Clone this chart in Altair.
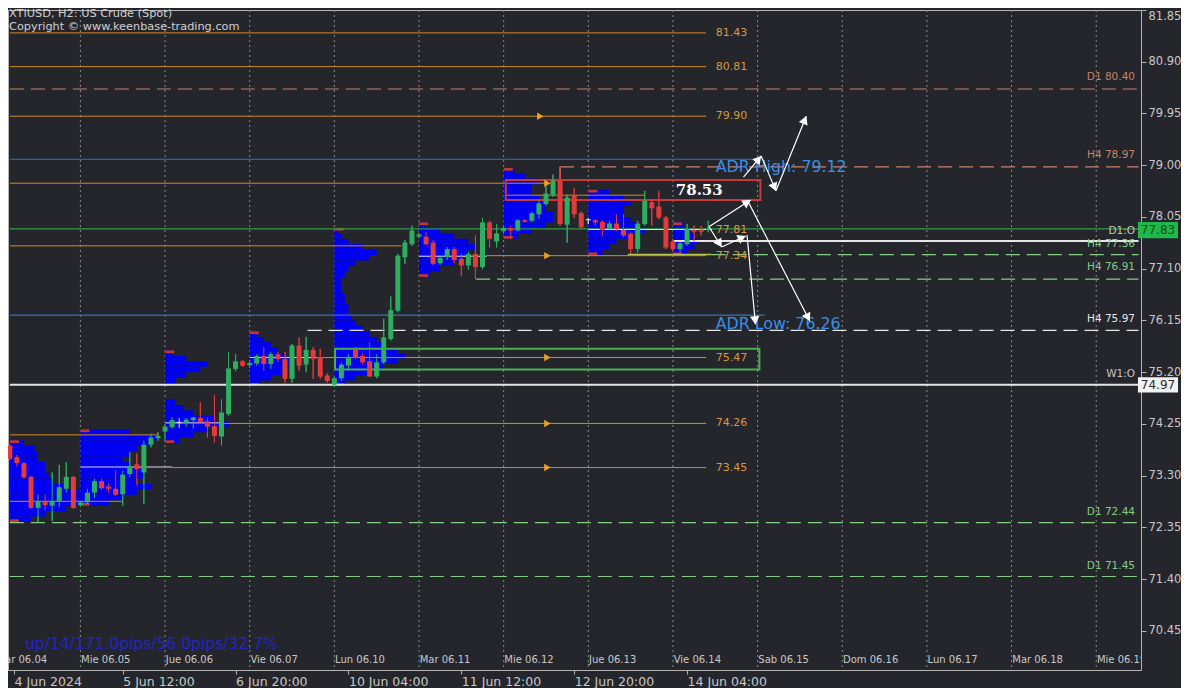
import math
import altair as alt
import pandas as pd

# ---------------- data: 2-hour candles (slot = bar index counted from 4 Jun 00:00) ----------------
first_slot = 2
opens = [
    73.85, 73.64, 73.53, 73.28, 72.71, 72.82, 72.75, 72.83, 73.06, 73.28,
    72.76, 72.81, 72.99, 73.20, 73.10, 73.06, 72.96, 73.33, 73.51, 73.36,
    73.87, 73.99, 74.11, 74.19, 74.28, 74.28, 74.32, 74.36, 74.30, 74.21,
    74.02, 74.43, 75.26, 75.40, 75.33, 75.36, 75.50, 75.35, 75.53, 75.44,
    75.08, 75.69, 75.34, 75.61, 75.48, 75.14, 74.97, 75.09, 75.32, 75.61,
    75.50, 75.40, 75.12, 75.38, 75.81, 76.33, 77.31, 77.55, 77.70, 77.69,
    77.58, 77.20, 77.31, 77.46, 77.28, 77.16, 77.37, 77.13, 77.95, 77.60,
    77.79, 77.85, 77.80, 77.99, 77.98, 78.10, 78.29, 78.46, 78.72, 77.91,
    78.44, 78.12, 78.00, 77.99, 77.96, 77.83, 77.93, 77.81, 77.74, 77.46,
    77.92, 78.32, 78.24, 78.04, 77.60, 77.46, 77.55, 77.81, 77.81, 77.82,
]
highs = [
    73.88, 73.69, 73.55, 73.30, 72.95, 72.95, 73.36, 73.50, 73.55, 73.29,
    72.84, 73.06, 73.24, 73.24, 73.16, 73.40, 73.39, 73.73, 73.71, 73.94,
    74.07, 74.10, 74.25, 74.38, 74.36, 74.36, 74.38, 74.65, 74.37, 74.78,
    74.70, 75.57, 75.53, 75.42, 75.42, 75.53, 75.66, 75.57, 75.57, 75.57,
    75.72, 75.84, 75.85, 75.66, 75.63, 75.18, 75.12, 75.38, 75.53, 75.67,
    75.55, 75.75, 75.53, 76.18, 76.59, 77.37, 77.63, 77.89, 77.76, 77.77,
    77.63, 77.32, 77.50, 77.50, 77.38, 77.41, 77.71, 78.03, 77.98, 77.92,
    77.89, 77.89, 78.01, 78.01, 78.15, 78.35, 78.69, 78.83, 78.97, 78.46,
    78.58, 78.15, 78.03, 78.01, 77.99, 77.98, 78.10, 78.10, 77.77, 77.98,
    78.53, 78.35, 78.53, 78.07, 77.65, 77.60, 77.92, 77.89, 77.89, 77.98,
]
lows = [
    73.59, 73.47, 73.24, 72.69, 72.44, 72.67, 72.47, 72.72, 72.99, 72.69,
    72.73, 72.78, 72.89, 73.04, 72.99, 72.93, 72.75, 73.27, 73.12, 72.78,
    73.82, 73.94, 73.94, 74.16, 74.18, 74.20, 74.16, 74.25, 74.00, 73.91,
    73.86, 74.40, 75.22, 75.30, 75.28, 75.32, 75.23, 75.26, 75.38, 75.01,
    75.01, 75.23, 75.20, 75.08, 75.08, 75.01, 74.93, 75.04, 75.26, 75.44,
    75.34, 75.11, 75.09, 75.35, 75.78, 76.30, 77.19, 77.52, 77.66, 77.52,
    77.16, 77.17, 77.26, 77.20, 76.97, 77.09, 76.91, 77.09, 77.49, 77.49,
    77.74, 77.65, 77.79, 77.95, 77.95, 78.01, 78.26, 78.42, 77.89, 77.58,
    78.03, 77.85, 77.92, 77.89, 77.71, 77.80, 77.79, 77.68, 77.37, 77.40,
    77.89, 77.89, 78.01, 77.46, 77.42, 77.40, 77.52, 77.60, 77.71, 77.77,
]
closes = [
    73.61, 73.53, 73.27, 72.71, 72.83, 72.76, 72.83, 73.09, 73.28, 72.71,
    72.81, 72.99, 73.20, 73.07, 73.06, 72.95, 73.32, 73.48, 73.42, 73.87,
    74.00, 74.03, 74.20, 74.32, 74.28, 74.33, 74.37, 74.28, 74.20, 74.03,
    74.46, 75.27, 75.40, 75.32, 75.37, 75.50, 75.35, 75.53, 75.44, 75.08,
    75.69, 75.32, 75.61, 75.44, 75.12, 75.04, 75.09, 75.34, 75.47, 75.46,
    75.38, 75.12, 75.38, 75.84, 76.34, 77.34, 77.58, 77.80, 77.72, 77.55,
    77.19, 77.30, 77.46, 77.26, 77.16, 77.37, 77.13, 77.95, 77.65, 77.75,
    77.85, 77.80, 77.99, 77.96, 78.12, 78.30, 78.48, 78.72, 77.92, 78.41,
    78.10, 77.86, 78.00, 77.95, 77.81, 77.93, 77.83, 77.71, 77.46, 77.93,
    78.35, 78.21, 78.04, 77.49, 77.46, 77.57, 77.83, 77.78, 77.79, 77.83,
]

# ---------------- day separators / time axis ----------------
day_slots = [0, 12, 24, 36, 48, 60, 72, 84, 96, 108, 120, 132, 144, 156]
day_names = ["Mar 06.04", "Mie 06.05", "Jue 06.06", "Vie 06.07", "Lun 06.10", "Mar 06.11",
             "Mie 06.12", "Jue 06.13", "Vie 06.14", "Sab 06.15", "Dom 06.16", "Lun 06.17",
             "Mar 06.18", "Mie 06.19"]
time_tick_slots = [2.6, 18, 34, 50, 66, 82, 98]
time_tick_labels = ["4 Jun 2024", "5 Jun 12:00", "6 Jun 20:00", "10 Jun 04:00",
                    "11 Jun 12:00", "12 Jun 20:00", "14 Jun 04:00"]
price_ticks = [81.85, 80.90, 79.95, 79.00, 78.05, 77.10, 76.15, 75.20, 74.25,
               73.30, 72.35, 71.40, 70.45]

# ---------------- daily volume profiles (start slot, top price, widths in bars per 0.10 level) ----------------
profile_starts = [2.0, 12, 24, 36, 48, 60, 72, 84, 96]
profile_tops = [73.95, 74.15, 75.60, 75.95, 77.85, 77.95, 78.95, 78.55, 77.95]
profile_widths = [
    [2, 3.5, 4, 4, 5, 5, 5.5, 6, 8, 10, 12, 14, 8, 5, 3],
    [7, 11, 10, 8, 7, 6, 7, 9, 9, 8, 10, 8, 6, 4],
    [1, 3, 6, 5, 3, 1.5, 0, 0, 0, 1.5, 2.5, 4, 7, 9, 6, 4, 2],
    [1, 2, 3, 4, 5, 6, 5.5, 4.5, 3, 1.5],
    [0.5, 1, 2, 4, 6, 5, 3, 2, 1.5, 1, 1, 1, 1.5, 1.5, 2, 2, 2.5, 3, 4, 5, 6, 7, 9, 10, 9, 7, 5, 3, 1.5],
    [1, 3, 5, 7, 8, 7, 6, 5, 3, 1.5],
    [1.5, 3, 5, 4, 4, 5, 6, 6, 7, 7, 6, 4, 2],
    [3, 5, 6, 5, 5, 6, 7, 8, 6, 4, 3, 2],
    [1.5, 2.5, 3, 3.5, 3, 2],
]

# ---------------- level lines ----------------
ORANGE = "#d08c26"
ORANGE_TXT = "#d49a3c"
BLUE_LINE = "#3c6fb4"
ADR_TXT = "#3a8ee6"
GREEN_LINE = "#2f9e44"
LGREEN = "#86cc86"
SALMON = "#c9826a"
WHITE = "#e6e6e6"
PINKWHITE = "#e9cfe6"
GRAY_TXT = "#c4c4c4"
GREEN = "#2fae5f"
RED = "#e33b3b"
PROFILE = "#0000f2"
BG = "#24262c"

solid_price = [81.43, 80.81, 79.90, 78.67, 78.45, 77.52, 77.34, 75.47, 74.26, 74.05, 73.45, 72.83,
               79.11, 76.25, 77.83, 74.97, 77.61,
               73.46, 74.27, 75.47, 77.33, 77.82, 77.36]
solid_from = [2.0, 2.0, 2.0, 2.0, 72.3, 2.0, 69.6, 45.5, 32.2, 2.0, 25.0, 2.0,
              2.0, 2.0, 2.0, 2.0, 96.1,
              12.0, 24.0, 36.0, 60.0, 84.0, 89.6]
solid_to = [100.7, 100.7, 100.7, 78.6, 92.0, 57.5, 100.7, 100.7, 100.7, 23.1, 100.7, 17.9,
            108.3, 109.0, 162.0, 162.0, 162.0,
            25.0, 32.2, 45.5, 69.6, 101.5, 101.5]
solid_color = [ORANGE] * 12 + [BLUE_LINE, BLUE_LINE, GREEN_LINE, WHITE, WHITE,
                               PINKWHITE, WHITE, PINKWHITE, WHITE, "#cfe8cf", "#b9c44a"]
solid_width = [1] * 12 + [1.2, 1.2, 1.2, 2, 2, 1, 1, 1, 1, 1, 1.5]

dash_price = [80.40, 78.97, 77.36, 76.91, 75.97, 72.44, 71.45]
dash_from = [2.0, 80.0, 101.5, 68.1, 44.2, 2.0, 2.0]
dash_color = [SALMON, SALMON, LGREEN, LGREEN, WHITE, LGREEN, LGREEN]

level_label_text = ["81.43", "80.81", "79.90", "77.81", "77.34", "75.47", "74.26", "73.45"]
level_label_price = [81.43, 80.81, 79.90, 77.81, 77.34, 75.47, 74.26, 73.45]
marker_price = [79.90, 78.67, 77.34, 75.47, 74.26, 73.45]
marker_slot = [77.2, 78.2, 78.2, 78.2, 78.2, 78.2]

right_label_text = ["D1 80.40", "H4 78.97", "D1:O", "H4 77.36", "H4 76.91", "H4 75.97", "W1:O", "D1 72.44", "D1 71.45"]
right_label_price = [80.62, 79.19, 77.79, 77.55, 77.13, 76.18, 75.17, 72.63, 71.64]
right_label_color = [SALMON, SALMON, GRAY_TXT, LGREEN, LGREEN, WHITE, GRAY_TXT, LGREEN, LGREEN]

# zones
zone_x1 = [72.3, 48.1]
zone_x2 = [108.4, 108.25]
zone_p1 = [78.36, 75.25]
zone_p2 = [78.73, 75.63]
zone_color = ["#c8393b", "#4caf50"]

# scenario arrows
arrow_from_s = [101.1, 106.0, 108.5, 110.6, 101.1, 102.9, 106.5, 106.7]
arrow_from_p = [77.87, 78.78, 79.17, 78.53, 77.87, 77.50, 77.72, 78.32]
arrow_to_s = [107.0, 108.5, 110.6, 114.9, 102.9, 106.3, 107.7, 115.4]
arrow_to_p = [78.36, 79.17, 78.53, 79.90, 77.50, 77.70, 76.08, 76.14]

# ---------------- scales ----------------
W, H = 1133, 660
X0 = 2.445
X1 = X0 + W / 7.117
Y1 = 81.85
Y0 = Y1 - H / 54.47
PX_S = W / (X1 - X0)
PX_P = H / (Y1 - Y0)
xs = alt.Scale(domain=[X0, X1], nice=False, zero=False)
ys = alt.Scale(domain=[Y0, Y1], nice=False, zero=False)


def X(f, axis=None):
    if axis is None:
        return alt.X(f"{f}:Q", scale=xs, title=None)
    return alt.X(f"{f}:Q", scale=xs, axis=axis)


def Y(f, axis=None):
    if axis is None:
        return alt.Y(f"{f}:Q", scale=ys, title=None)
    return alt.Y(f"{f}:Q", scale=ys, axis=axis)


NOCOL = alt.Color("col:N", scale=None)

# ---------------- frames ----------------
cd = pd.DataFrame({"s": range(first_slot, first_slot + len(opens)), "o": opens,
                   "h": highs, "l": lows, "c": closes})
cd["col"] = [("#dcdcdc" if abs(c - o) < 0.005 else (GREEN if c > o else RED))
             for o, c in zip(cd.o, cd.c)]
cd["bt"] = cd[["o", "c"]].max(axis=1)
cd["bb"] = cd[["o", "c"]].min(axis=1)
thin = (cd.bt - cd.bb) < 0.02
cd.loc[thin, "bt"] = cd.loc[thin, "bt"] + 0.01
cd.loc[thin, "bb"] = cd.loc[thin, "bb"] - 0.01

prow, mrow = [], []
for st, top, ws in zip(profile_starts, profile_tops, profile_widths):
    for i, w in enumerate(ws):
        if w > 0:
            prow.append({"x1": st, "x2": st + w, "p1": top - i * 0.1, "p2": top - (i + 1) * 0.1})
    bot = top - len(ws) * 0.1
    mrow.append({"x1": st, "x2": st + 1.3, "p1": top, "p2": top - 0.05})
    mrow.append({"x1": st, "x2": st + 1.3, "p1": bot + 0.05, "p2": bot})
prof = pd.DataFrame(prow)
pmark = pd.DataFrame(mrow)

sl = pd.DataFrame({"p": solid_price, "x1": solid_from, "x2": solid_to,
                   "col": solid_color, "w": solid_width})
dl = pd.DataFrame({"p": dash_price, "x1": dash_from, "x2": [162.0] * len(dash_price),
                   "col": dash_color})
days = pd.DataFrame({"s": day_slots, "name": day_names, "ls": [d + 0.1 for d in day_slots]})
lvl = pd.DataFrame({"s": [102.07] * len(level_label_text), "p": level_label_price,
                    "t": level_label_text})
mk = pd.DataFrame({"s": marker_slot, "p": marker_price})
rl = pd.DataFrame({"s": [161.5] * len(right_label_text), "p": right_label_price,
                   "t": right_label_text, "col": right_label_color})
zones = pd.DataFrame({"x1": zone_x1, "x2": zone_x2, "p1": zone_p1, "p2": zone_p2, "col": zone_color})

ar = pd.DataFrame({"s1": arrow_from_s, "p1": arrow_from_p, "s2": arrow_to_s, "p2": arrow_to_p})
heads = []
for a in ar.itertuples():
    dx = (a.s2 - a.s1) * PX_S
    dy = -(a.p2 - a.p1) * PX_P
    ln = math.hypot(dx, dy)
    ux, uy = dx / ln, dy / ln
    ang = (math.degrees(math.atan2(dx, -dy)) + 360) % 360
    heads.append({"s": a.s2 - ux * 4 / PX_S, "p": a.p2 + uy * 4 / PX_P, "ang": ang})
heads = pd.DataFrame(heads)

# ---------------- layers ----------------
lab_expr = "''"
for v, t in reversed(list(zip(time_tick_slots, time_tick_labels))):
    lab_expr = f"abs(datum.value - {v}) < 0.01 ? '{t}' : {lab_expr}"

x_axis = alt.Axis(values=time_tick_slots, labelExpr=lab_expr, orient="bottom", grid=False,
                  domain=False, ticks=True, tickColor="#b4b4b4", tickSize=4,
                  labelColor="#c8c8c8", labelFontSize=12.5, labelFont="DejaVu Sans",
                  labelAlign="left", labelPadding=1, title=None, labelFlush=False,
                  labelOverlap=False)
y_axis = alt.Axis(values=price_ticks, format=".2f", orient="right", grid=False, domain=False,
                  ticks=True, tickColor="#b4b4b4", tickSize=5, labelColor="#c8c8c8",
                  labelFontSize=11.5, labelFont="DejaVu Sans", labelPadding=2, title=None,
                  labelFlush=True, labelOverlap=False)

# axis-carrying layer (wicks) comes first
wick = alt.Chart(cd).mark_rule(strokeWidth=1, clip=True).encode(
    x=X("s", x_axis), y=Y("l", y_axis), y2="h", color=NOCOL)

sep = alt.Chart(days).mark_rule(color="#8a8a8a", strokeDash=[2, 3], strokeWidth=1, clip=True).encode(
    x=X("s"), y=alt.value(0), y2=alt.value(H))

prof_l = alt.Chart(prof).mark_rect(color=PROFILE, clip=True).encode(
    x=X("x1"), x2="x2", y=Y("p1"), y2="p2")
pmark_l = alt.Chart(pmark).mark_rect(color="#c0392b", clip=True).encode(
    x=X("x1"), x2="x2", y=Y("p1"), y2="p2")

solid_l = alt.Chart(sl).mark_rule(clip=True).encode(
    x=X("x1"), x2="x2", y=Y("p"), color=NOCOL,
    strokeWidth=alt.StrokeWidth("w:Q", scale=None))
dash_l = alt.Chart(dl).mark_rule(clip=True, strokeDash=[14, 7], strokeWidth=1.2).encode(
    x=X("x1"), x2="x2", y=Y("p"), color=NOCOL)
vseg = alt.Chart(pd.DataFrame({"s": [80.0], "p1": [78.97], "p2": [78.73]})).mark_rule(
    color=SALMON, strokeWidth=1.2).encode(x=X("s"), y=Y("p1"), y2="p2")

zone_l = alt.Chart(zones).mark_rect(fillOpacity=0, strokeWidth=2, clip=True).encode(
    x=X("x1"), x2="x2", y=Y("p1"), y2="p2", stroke=alt.Stroke("col:N", scale=None))

wick_top = alt.Chart(cd).mark_rule(strokeWidth=1, clip=True).encode(
    x=X("s"), y=Y("l"), y2="h", color=NOCOL)
body = alt.Chart(cd).mark_bar(size=5, clip=True).encode(
    x=X("s"), y=Y("bb"), y2="bt", color=NOCOL)

mk_l = alt.Chart(mk).mark_point(shape="triangle-right", filled=True, size=55, opacity=1,
                                color="#f0a020").encode(x=X("s"), y=Y("p"))

lvl_l = alt.Chart(lvl).mark_text(align="left", baseline="middle", font="DejaVu Sans",
                                 fontSize=11, color=ORANGE_TXT).encode(
    x=X("s"), y=Y("p"), text="t:N")
rl_l = alt.Chart(rl).mark_text(align="right", baseline="middle", font="DejaVu Sans",
                               fontSize=10.5).encode(x=X("s"), y=Y("p"), text="t:N", color=NOCOL)

adr = pd.DataFrame({"s": [102.07, 102.07], "p": [78.97, 76.085],
                    "t": ["ADR High: 79.12", "ADR Low: 76.26"]})
adr_l = alt.Chart(adr).mark_text(align="left", baseline="middle", font="DejaVu Sans",
                                 fontSize=15.8, color=ADR_TXT).encode(x=X("s"), y=Y("p"), text="t:N")
zlab = pd.DataFrame({"s": [96.4], "p": [78.545], "t": ["78.53"]})
zlab_l = alt.Chart(zlab).mark_text(align="left", baseline="middle", font="DejaVu Serif",
                                   fontWeight="bold", fontSize=15, color="#ffffff").encode(
    x=X("s"), y=Y("p"), text="t:N")

day_l = alt.Chart(days).mark_text(align="left", baseline="middle", font="DejaVu Sans",
                                  fontSize=10, color="#c8c8c8", clip=True).encode(
    x=X("ls"), y=alt.value(650), text="name:N")

arrow_l = alt.Chart(ar).mark_rule(color="#ffffff", strokeWidth=1.2).encode(
    x=X("s1"), x2="s2", y=Y("p1"), y2="p2")
head_l = alt.Chart(heads).mark_point(shape="triangle-up", filled=True, size=90, opacity=1,
                                     color="#ffffff").encode(
    x=X("s"), y=Y("p"), angle=alt.Angle("ang:Q", scale=None))

tags = pd.DataFrame({"x1": [161.92, 161.92], "x2": [167.6, 167.6], "p1": [77.66, 74.83],
                     "p2": [77.96, 75.11], "xc": [164.76, 164.76], "p": [77.81, 74.97],
                     "t": ["77.83", "74.97"], "col": ["#1fb84a", "#f2f2f2"],
                     "tc": ["#154a1e", "#2a2a2a"]})
tag_r = alt.Chart(tags).mark_rect().encode(x=X("x1"), x2="x2", y=Y("p1"), y2="p2", color=NOCOL)
tag_t = alt.Chart(tags).mark_text(align="center", baseline="middle", font="DejaVu Sans",
                                  fontSize=12).encode(
    x=X("xc"), y=Y("p"), text="t:N", color=alt.Color("tc:N", scale=None))

hdr = pd.DataFrame({"t": ["XTIUSD, H2:  US Crude (Spot)", "Copyright \u00a9 www.keenbase-trading.com"],
                    "yy": [4, 17]})
hdr_l = alt.Chart(hdr).mark_text(align="left", baseline="middle", font="DejaVu Sans",
                                 fontSize=11.3, color="#cfcfcf").encode(
    x=alt.value(1), y=alt.Y("yy:Q", scale=None), text="t:N")
stat_l = alt.Chart(pd.DataFrame({"t": ["up/14/171.0pips/56.0pips/32.7%"]})).mark_text(
    align="left", baseline="middle", font="DejaVu Sans", fontSize=15.5, color="#2424c8").encode(
    x=alt.value(17), y=alt.value(634), text="t:N")

chart = alt.layer(
    wick, sep, prof_l, pmark_l, solid_l, dash_l, vseg, zone_l, wick_top, body, mk_l,
    lvl_l, rl_l, adr_l, zlab_l, day_l, arrow_l, head_l, tag_r, tag_t, hdr_l, stat_l,
).properties(
    width=W, height=H, background=BG,
    padding={"left": 0, "top": 0, "right": 0, "bottom": 0},
).configure_view(fill=BG, stroke="#b4b4b4", strokeWidth=1).configure_axis(grid=False, title=None)

chart.save("out.html", embed_options={"renderer": "svg", "actions": False})
